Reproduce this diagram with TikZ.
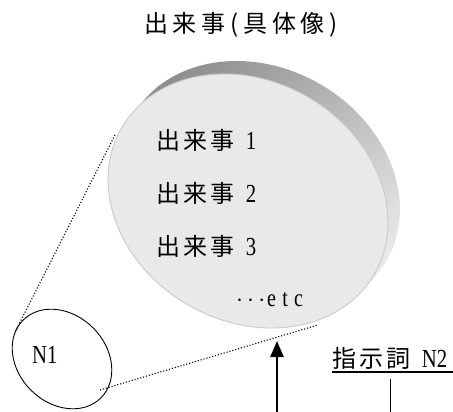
\documentclass[tikz,border=0pt]{standalone}
\usepackage{fontspec}
\newfontfamily\jp[LetterSpace=14]{Noto Sans CJK JP}
\newfontfamily\lat[FakeStretch=0.8]{Liberation Serif}
\usetikzlibrary{arrows.meta}
\definecolor{face}{HTML}{E9E9E9}
\definecolor{faceedge}{HTML}{CACACA}
\definecolor{rimdark}{HTML}{8A8A8A}
\definecolor{rimlight}{HTML}{ECECEC}
\begin{document}
\begin{tikzpicture}[x=1pt,y=-1pt,
  txt/.style={inner sep=0pt, anchor=west, font=\fontsize{24}{28}\selectfont},
  dotline/.style={line width=1.1pt, dash pattern=on 1.1pt off 1.9pt},
  thinline/.style={line width=0.9pt},
  arrowline/.style={line width=2.4pt, -{Triangle[length=16pt, width=13pt]}}]
\useasboundingbox (0,0) rectangle (453,412);
% disk rim (back face)
\shade[top color=rimdark, bottom color=rimlight, shading angle=40]
  (260,188) ellipse [x radius=146pt, y radius=120pt, rotate=-30];
% disk front face
\fill[face] (248,201) ellipse [x radius=146pt, y radius=120pt, rotate=-30];
\draw[faceedge, line width=0.9pt] (248,201) ellipse [x radius=146pt, y radius=120pt, rotate=-30];
% N1 ellipse
\draw[thinline] (62,359) ellipse [x radius=55pt, y radius=44pt, rotate=-45];
% texts
\node[txt, anchor=center] (title) at (241,25) {\jp\addfontfeature{LetterSpace=20}出来事(具体像)};
\node[txt] (e1) at (156,140) {\jp 出来事\hspace{11pt}\lat\fontsize{26}{30}\selectfont 1};
\node[txt] (e2) at (156,193) {\jp 出来事\hspace{11pt}\lat\fontsize{26}{30}\selectfont 2};
\node[txt] (e3) at (156,246) {\jp 出来事\hspace{11pt}\lat\fontsize{26}{30}\selectfont 3};
\node[txt] (etc) at (236,300) {\fontsize{27}{30}\selectfont$\cdots$\hspace{2pt}\lat\fontsize{25}{29}\selectfont\addfontfeature{LetterSpace=25}etc};
\node[txt] (n1) at (32,355) {\lat\fontsize{26}{30}\selectfont N1};
\node[txt] (n2) at (332,358) {\jp 指示詞\hspace{11pt}\lat\fontsize{26}{30}\selectfont N2};
% coordinates
\coordinate (d1a) at (115,135);
\coordinate (d1b) at (15,332);
\coordinate (d2a) at (100,390);
\coordinate (d2b) at (318,325);
\coordinate (ulA) at (332,372);
\coordinate (ulB) at (453,372);
\coordinate (vA) at (390,379);
\coordinate (vB) at (390,412);
\coordinate (arB) at (277,412);
\coordinate (arT) at (277,341);
% connectors
\draw[dotline] (d1a) -- (d1b);
\draw[dotline] (d2a) -- (d2b);
\draw[line width=2pt] (ulA) -- (ulB);
\draw[thinline] (vA) -- (vB);
\draw[arrowline] (arB) -- (arT);
\end{tikzpicture}
\end{document}
